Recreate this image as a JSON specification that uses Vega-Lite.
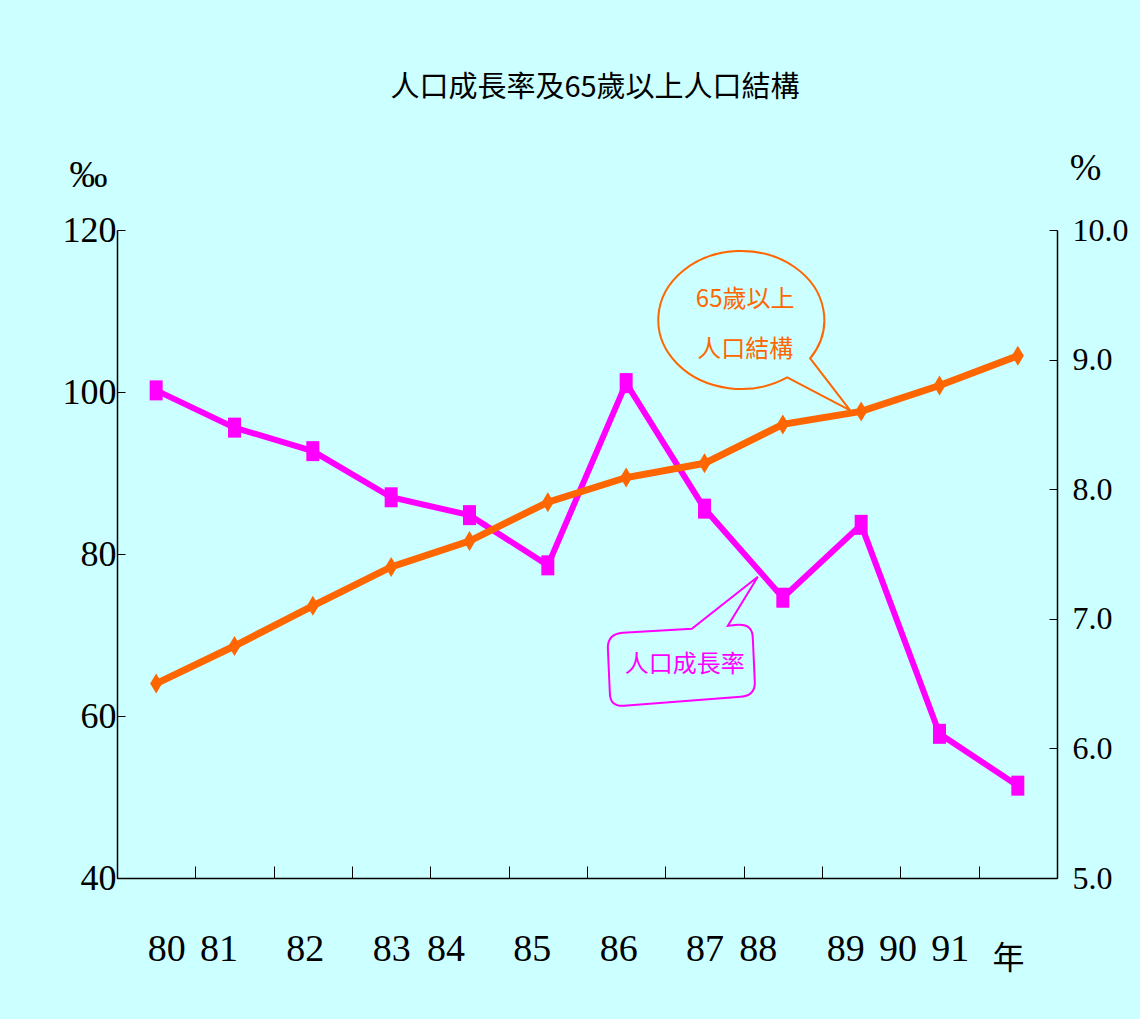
{
  "$schema": "https://vega.github.io/schema/vega-lite/v6.json",
  "width": 940,
  "height": 648,
  "autosize": {"type": "none"},
  "padding": {"left": 117, "top": 230, "right": 83, "bottom": 141},
  "background": "#CCFFFF",
  "config": {"view": {"stroke": null}, "font": "Liberation Serif"},
  "title": {"text": "人口成長率及65歲以上人口結構", "font": "Noto Sans CJK TC", "fontSize": 29, "fontWeight": "normal", "color": "black", "anchor": "middle", "offset": 46, "dx": 8},
  "data": {"values": [
    {"year": "80", "growth": 100.2, "aged": 6.50},
    {"year": "81", "growth": 95.6, "aged": 6.79},
    {"year": "82", "growth": 92.7, "aged": 7.10},
    {"year": "83", "growth": 87.0, "aged": 7.40},
    {"year": "84", "growth": 84.8, "aged": 7.60},
    {"year": "85", "growth": 78.6, "aged": 7.90},
    {"year": "86", "growth": 101.1, "aged": 8.09},
    {"year": "87", "growth": 85.6, "aged": 8.20},
    {"year": "88", "growth": 74.6, "aged": 8.50},
    {"year": "89", "growth": 83.6, "aged": 8.60},
    {"year": "90", "growth": 57.8, "aged": 8.80},
    {"year": "91", "growth": 51.4, "aged": 9.03}
  ]},
  "encoding": {
    "x": {
      "field": "year", "type": "ordinal", "bandPosition": 0.5,
      "scale": {"type": "band", "paddingInner": 0, "paddingOuter": 0},
      "axis": {
        "labelAngle": 0, "labelFontSize": 38, "labelColor": "black", "labelFont": "Liberation Serif",
        "tickBand": "extent", "tickSize": -12, "tickColor": "black", "tickWidth": 1,
        "domainColor": "black", "domainWidth": 1.5, "labelPadding": 64, "grid": false,
        "labelOffset": {"expr": "{'80':10,'81':-16,'82':-8,'83':0,'84':-24,'85':-16,'86':-8,'87':0,'88':-25,'89':-16,'90':-42,'91':-68}[datum.value]"},
        "title": "年", "titleFont": "Noto Sans CJK TC", "titleFontSize": 32, "titleFontWeight": "normal",
        "titleColor": "black", "titleX": 891, "titleY": 80, "titleAngle": 0, "titleAlign": "center", "titleBaseline": "middle"
      }
    }
  },
  "layer": [
    {
      "encoding": {
        "y": {
          "field": "growth", "type": "quantitative",
          "scale": {"domain": [40, 120], "nice": false, "zero": false},
          "axis": {
            "orient": "left", "values": [40, 60, 80, 100, 120], "format": "d", "grid": false,
            "labelFontSize": 36, "labelColor": "black", "labelFont": "Liberation Serif", "labelPadding": 9,
            "tickSize": -8, "tickColor": "black", "domainColor": "black", "domainWidth": 1.5,
            "title": "‰", "titleFont": "Liberation Serif", "titleFontSize": 38, "titleFontWeight": "normal", "titleColor": "black",
            "titleAngle": 0, "titleX": -29, "titleY": -55, "titleAlign": "center", "titleBaseline": "middle"
          }
        }
      },
      "layer": [
        {"mark": {"type": "line", "color": "#FF00FF", "strokeWidth": 6}},
        {"mark": {"type": "point", "shape": "M-0.65 -1 L0.65 -1 L0.65 1 L-0.65 1 Z", "size": 400, "filled": true, "fill": "#FF00FF", "opacity": 1, "strokeWidth": 0}},
        {
          "transform": [{"filter": "datum.year == '88'"}],
          "mark": {"type": "point", "shape": "M -160 35 L -91 31 L -25 -21 L -55 28 L -45 27 Q -30 26 -30 41 L -28 85 Q -28 98 -42 99 L -159 108 Q -173 109 -173 95 L -175 50 Q -175 36 -160 35 Z", "size": 4, "filled": false, "stroke": "#FF00FF", "strokeWidth": 2, "opacity": 1}
        },
        {
          "transform": [{"filter": "datum.year == '88'"}],
          "mark": {"type": "text", "text": "人口成長率", "font": "Noto Sans CJK TC", "fontSize": 24, "color": "#FF00FF", "dx": -98, "dy": 67, "align": "center", "baseline": "middle"}
        }
      ]
    },
    {
      "encoding": {
        "y": {
          "field": "aged", "type": "quantitative",
          "scale": {"domain": [5, 10], "nice": false, "zero": false},
          "axis": {
            "orient": "right", "values": [5, 6, 7, 8, 9, 10], "format": ".1f", "grid": false,
            "labelFontSize": 32, "labelColor": "black", "labelFont": "Liberation Serif", "labelPadding": 23,
            "tickSize": -8, "tickColor": "black", "domainColor": "black", "domainWidth": 1.5,
            "title": "%", "titleFont": "Liberation Serif", "titleFontSize": 38, "titleFontWeight": "normal", "titleColor": "black",
            "titleAngle": 0, "titleX": 28, "titleY": -62, "titleAlign": "center", "titleBaseline": "middle"
          }
        }
      },
      "layer": [
        {"mark": {"type": "line", "color": "#FF6600", "strokeWidth": 7}},
        {"mark": {"type": "point", "shape": "M0 -1 L0.6 0 L0 1 L-0.6 0 Z", "size": 400, "filled": true, "fill": "#FF6600", "opacity": 1, "strokeWidth": 0}},
        {
          "transform": [{"filter": "datum.year == '89'"}],
          "mark": {"type": "point", "shape": "M -51 -53 L -11 -1 L -74 -34 A 83 69 0 1 1 -51 -53 Z", "size": 4, "filled": false, "stroke": "#FF6600", "strokeWidth": 2, "opacity": 1}
        },
        {
          "transform": [{"filter": "datum.year == '89'"}],
          "mark": {"type": "text", "text": ["65歲以上", "人口結構"], "lineHeight": 50, "font": "Noto Sans CJK TC", "fontSize": 24, "color": "#FF6600", "dx": -116, "dy": -111, "align": "center", "baseline": "middle"}
        }
      ]
    }
  ],
  "resolve": {"scale": {"y": "independent"}}
}
